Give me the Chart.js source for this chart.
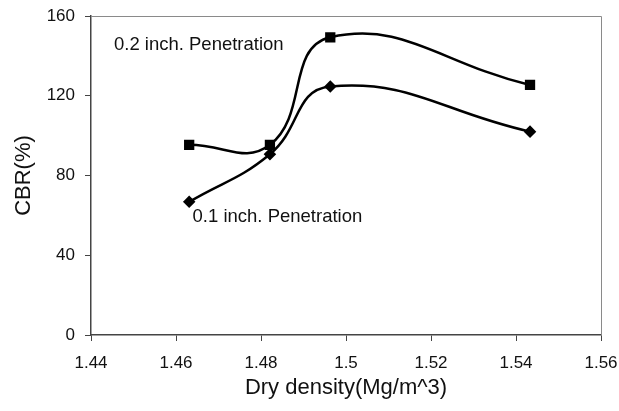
<!DOCTYPE html>
<html><head><meta charset="utf-8">
<script src="https://cdn.jsdelivr.net/npm/chart.js@4/dist/chart.umd.min.js"></script>
<style>html,body{margin:0;padding:0;background:#fff}#wrap{width:619px;height:411px}</style>
</head><body><div id="wrap"><canvas id="c" width="619" height="411"></canvas></div>
<script>
const dryDensity = [1.4631, 1.4821, 1.4963, 1.5433];
const cbr02 = [95.4, 95.4, 149.3, 125.4];
const cbr01 = [66.8, 90.7, 124.6, 102.0];
const xTicks = [1.44, 1.46, 1.48, 1.5, 1.52, 1.54, 1.56];
const yTicks = [0, 40, 80, 120, 160];
const seriesNames = ['0.2 inch. Penetration', '0.1 inch. Penetration'];
const labelAnchors = [[1.4454, 145.5], [1.4639, 59.3]];

const pts = (ys) => dryDensity.map((x, i) => ({x, y: ys[i]}));
const font = 'Arial, "Liberation Sans", sans-serif';

const frame = {
  id: 'frame',
  beforeDatasetsDraw(chart) {
    const {ctx, chartArea: a} = chart;
    ctx.save();
    ctx.strokeStyle = '#8a8a8a';
    ctx.lineWidth = 1;
    ctx.beginPath();
    ctx.moveTo(a.left, a.top + 0.5); ctx.lineTo(a.right + 0.5, a.top + 0.5);
    ctx.lineTo(a.right + 0.5, a.bottom);
    ctx.stroke();
    ctx.restore();
  },
  afterDatasetsDraw(chart) {
    const {ctx, scales: {x, y}} = chart;
    ctx.save();
    ctx.fillStyle = '#111';
    ctx.font = '18.5px ' + font;
    ctx.textBaseline = 'middle';
    ctx.textAlign = 'left';
    seriesNames.forEach((n, i) => {
      ctx.fillText(n, x.getPixelForValue(labelAnchors[i][0]), y.getPixelForValue(labelAnchors[i][1]));
    });
    ctx.restore();
  }
};

new Chart(document.getElementById('c'), {
  type: 'scatter',
  data: {
    datasets: [
      {label: seriesNames[0], data: pts(cbr02), showLine: true, tension: 0.45,
       borderColor: '#000', backgroundColor: '#000', borderWidth: 2.5,
       pointStyle: 'rect', pointRadius: 5.5, pointHoverRadius: 5.5},
      {label: seriesNames[1], data: pts(cbr01), showLine: true, tension: 0.45,
       borderColor: '#000', backgroundColor: '#000', borderWidth: 2.5,
       pointStyle: 'rectRot', pointRadius: 4.5, pointHoverRadius: 4.5}
    ]
  },
  options: {
    responsive: false, animation: false,
    layout: {padding: {top: 16, right: 18, left: 0, bottom: 0}},
    plugins: {legend: {display: false}, tooltip: {enabled: false}},
    scales: {
      x: {
        type: 'linear', min: 1.44, max: 1.56,
        afterBuildTicks: (s) => { s.ticks = xTicks.map(v => ({value: v})); },
        afterFit: (s) => { s.height = 76; s.paddingLeft = 0; s.paddingRight = 0; },
        border: {color: '#444', width: 1.5},
        grid: {drawOnChartArea: false, drawTicks: true, tickLength: 6, color: '#444'},
        ticks: {color: '#111', font: {family: font, size: 17}, padding: 12,
                maxRotation: 0, callback: (v) => String(+v.toFixed(2))},
        title: {display: true, text: 'Dry density(Mg/m^3)', color: '#111',
                font: {family: font, size: 22}, padding: {top: 0, bottom: 10}}
      },
      y: {
        min: 0, max: 160,
        afterBuildTicks: (s) => { s.ticks = yTicks.map(v => ({value: v})); },
        afterFit: (s) => { s.width = 91; s.paddingTop = 0; s.paddingBottom = 0; },
        border: {color: '#444', width: 1.5},
        grid: {drawOnChartArea: false, drawTicks: true, tickLength: 6, color: '#444'},
        ticks: {color: '#111', font: {family: font, size: 17}, padding: 10},
        title: {display: true, text: 'CBR(%)', color: '#111',
                font: {family: font, size: 22}, padding: {top: 11, bottom: 0}}
      }
    }
  },
  plugins: [frame]
});
</script></body></html>
